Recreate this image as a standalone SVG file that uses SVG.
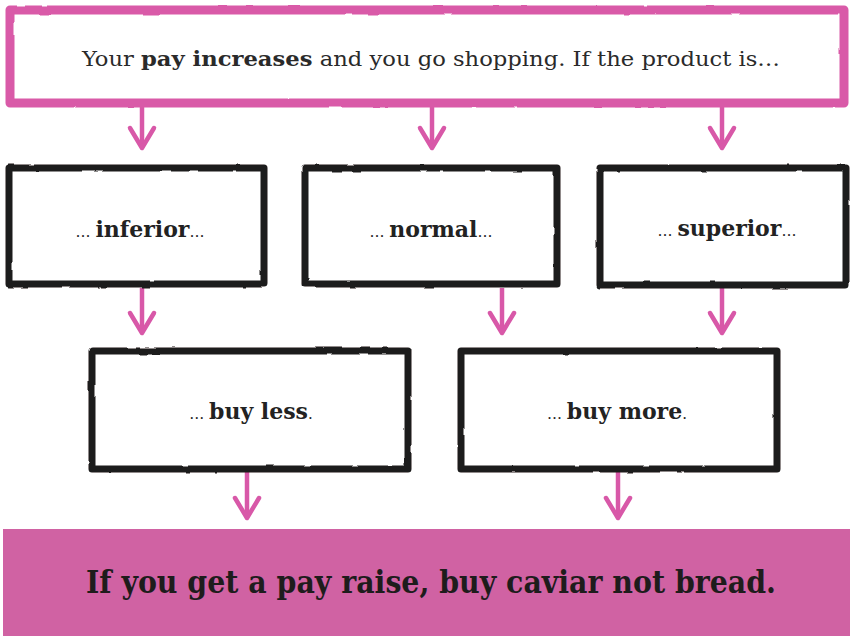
<svg xmlns="http://www.w3.org/2000/svg" width="850" height="636" viewBox="0 0 850 636">
  <defs>
    <filter id="rough" x="-5%" y="-5%" width="110%" height="110%">
      <feTurbulence type="fractalNoise" baseFrequency="0.05" numOctaves="2" seed="3" result="n"/>
      <feDisplacementMap in="SourceGraphic" in2="n" scale="2.2" xChannelSelector="R" yChannelSelector="G"/>
    </filter>
    <marker id="head" viewBox="0 0 26 28" refX="22" refY="14" markerWidth="26" markerHeight="28" markerUnits="userSpaceOnUse" orient="auto" overflow="visible">
      <path d="M2,2 L22,14 L2,26" fill="none" stroke="#d858a8" stroke-width="4.5" stroke-linecap="round" stroke-linejoin="round"/>
    </marker>
  </defs>
  <style>
    .box { fill: #ffffff; stroke: #1e1c1c; stroke-width: 7; stroke-linejoin: round; }
    .topbox { fill: #ffffff; stroke: #d95aa8; stroke-width: 9; stroke-linejoin: round; }
    .lbl { font-family: "DejaVu Serif", "Liberation Serif", serif; font-size: 22px; fill: #222222; text-anchor: middle; }
    .lbl .b { font-weight: bold; }
    .lbl .d { font-size: 15px; }
    .intro { font-family: "DejaVu Serif Condensed", "DejaVu Serif", serif; font-size: 21px; fill: #2a2a2a; }
    .conn { stroke: #d858a8; stroke-width: 4.5; fill: none; marker-end: url(#head); }
    .band { fill: #d062a3; }
    .concl { font-family: "DejaVu Serif Condensed", "DejaVu Serif", serif; font-weight: bold; font-size: 31px; fill: #1e1c1c; }
  </style>

  <rect width="850" height="636" fill="#ffffff"/>

  <g id="connectors">
    <line class="conn" x1="142" y1="107" x2="142" y2="148"/>
    <line class="conn" x1="432" y1="107" x2="432" y2="148"/>
    <line class="conn" x1="722" y1="107" x2="722" y2="148"/>
    <line class="conn" x1="142" y1="288" x2="142" y2="333"/>
    <line class="conn" x1="502" y1="288" x2="502" y2="333"/>
    <line class="conn" x1="722" y1="288" x2="722" y2="333"/>
    <line class="conn" x1="247" y1="472" x2="247" y2="518"/>
    <line class="conn" x1="618" y1="472" x2="618" y2="518"/>
  </g>

  <g id="start">
    <rect class="topbox" x="10" y="10" width="834" height="93" filter="url(#rough)"/>
    <text class="intro" x="82" y="66" textLength="698" lengthAdjust="spacingAndGlyphs">Your <tspan font-weight="bold">pay increases</tspan> and you go shopping. If the product is…</text>
  </g>

  <g id="inferior">
    <rect class="box" x="9" y="168" width="255" height="116" filter="url(#rough)"/>
    <text class="lbl" x="140" y="237"><tspan class="d">… </tspan><tspan class="b">inferior</tspan><tspan class="d">…</tspan></text>
  </g>

  <g id="normal">
    <rect class="box" x="305" y="168" width="252" height="116" filter="url(#rough)"/>
    <text class="lbl" x="431" y="237"><tspan class="d">… </tspan><tspan class="b">normal</tspan><tspan class="d">…</tspan></text>
  </g>

  <g id="superior">
    <rect class="box" x="600" y="168" width="246" height="117" filter="url(#rough)"/>
    <text class="lbl" x="727" y="236"><tspan class="d">… </tspan><tspan class="b">superior</tspan><tspan class="d">…</tspan></text>
  </g>

  <g id="buy-less">
    <rect class="box" x="92" y="351" width="316" height="118" filter="url(#rough)"/>
    <text class="lbl" x="251" y="419"><tspan class="d">… </tspan><tspan class="b">buy less</tspan><tspan class="d">.</tspan></text>
  </g>

  <g id="buy-more">
    <rect class="box" x="461" y="351" width="316" height="118" filter="url(#rough)"/>
    <text class="lbl" x="617" y="419"><tspan class="d">… </tspan><tspan class="b">buy more</tspan><tspan class="d">.</tspan></text>
  </g>

  <g id="conclusion">
    <rect class="band" x="3" y="529" width="847" height="107"/>
    <text class="concl" x="86" y="593" textLength="690" lengthAdjust="spacingAndGlyphs">If you get a pay raise, buy caviar not bread.</text>
  </g>
</svg>
